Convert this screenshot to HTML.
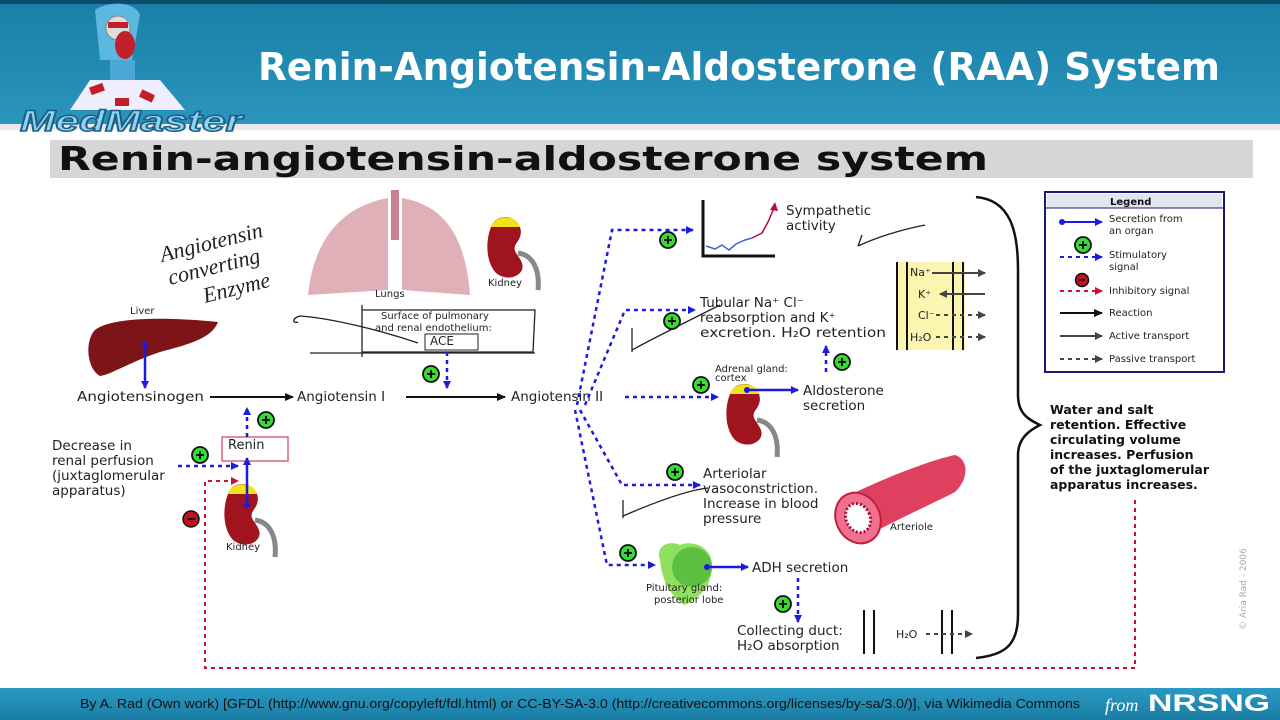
<!DOCTYPE html>
<html><head><meta charset="utf-8"><style>
html,body{margin:0;padding:0;width:1280px;height:720px;overflow:hidden;background:#fff}
svg{display:block}
text{font-family:"DejaVu Sans","Liberation Sans",sans-serif}
</style></head><body>
<svg width="1280" height="720" viewBox="0 0 1280 720" xmlns="http://www.w3.org/2000/svg">
<defs>
<linearGradient id="hdr" x1="0" y1="0" x2="0" y2="1"><stop offset="0" stop-color="#1a7fa6"/><stop offset="1" stop-color="#2a95bd"/></linearGradient>
<linearGradient id="ftr" x1="0" y1="0" x2="0" y2="1"><stop offset="0" stop-color="#2a9ac4"/><stop offset="1" stop-color="#1a7ca3"/></linearGradient>
<marker id="ab" markerWidth="8" markerHeight="8" refX="7" refY="4" orient="auto" markerUnits="userSpaceOnUse"><path d="M0,0 L8,4 L0,8z" fill="#1a1ae0"/></marker>
<marker id="ak" markerWidth="9" markerHeight="8" refX="8" refY="4" orient="auto" markerUnits="userSpaceOnUse"><path d="M0,0 L9,4 L0,8z" fill="#111"/></marker>
<marker id="ar" markerWidth="8" markerHeight="8" refX="7" refY="4" orient="auto" markerUnits="userSpaceOnUse"><path d="M0,0 L8,4 L0,8z" fill="#d01030"/></marker>
<marker id="ag" markerWidth="8" markerHeight="8" refX="7" refY="4" orient="auto" markerUnits="userSpaceOnUse"><path d="M0,0 L8,4 L0,8z" fill="#444"/></marker>
<g id="plus"><circle r="8" fill="#33dd33" stroke="#111" stroke-width="1.8"/><path d="M-4,0H4M0,-4V4" stroke="#111" stroke-width="2"/></g>
<g id="kid"><path d="M5,8 C-2,20 -4,45 8,58 C20,68 38,60 34,48 C30,38 22,36 30,26 C38,14 28,2 18,2 C12,2 8,4 5,8z" fill="#a0141e"/><path d="M3,12 C6,0 28,-2 32,12z" fill="#f2e21c"/><path d="M30,38 C45,40 52,55 50,75" stroke="#888" stroke-width="5" fill="none"/></g>
</defs>
<rect x="0" y="0" width="1280" height="126" fill="url(#hdr)"/>
<rect x="0" y="0" width="1280" height="4" fill="#0c4a66"/>
<rect x="0" y="124" width="1280" height="6" fill="#e9e9e9"/>
<text x="258" y="80" font-weight="bold" font-size="38" fill="#fff" textLength="962" lengthAdjust="spacingAndGlyphs" style="font-family:'DejaVu Sans',sans-serif">Renin-Angiotensin-Aldosterone (RAA) System</text>
<g>
<path d="M95,10 C110,0 135,2 140,15 L132,60 L100,60z" fill="#5cb8e0"/>
<circle cx="118" cy="28" r="12" fill="#ddd" stroke="#888"/>
<rect x="108" y="22" width="20" height="6" fill="#c0202a"/>
<ellipse cx="125" cy="45" rx="10" ry="14" fill="#c0202a"/>
<rect x="110" y="60" width="25" height="22" fill="#4aa8d8"/>
<path d="M70,110 L90,80 L160,80 L185,110z" fill="#eef"/>
<rect x="90" y="85" width="14" height="8" fill="#c0202a" transform="rotate(-20 97 89)"/>
<rect x="140" y="92" width="14" height="8" fill="#c0202a" transform="rotate(25 147 96)"/>
<rect x="115" y="98" width="14" height="8" fill="#c0202a"/>
<text x="20" y="131" font-weight="bold" font-style="italic" font-size="30" fill="#8fd3f3" stroke="#1f5f86" stroke-width="1.5" textLength="222" lengthAdjust="spacingAndGlyphs" style="font-family:'Liberation Sans',sans-serif">MedMaster</text>
</g>
<rect x="50" y="140" width="1203" height="38" fill="#d6d6d6"/>
<text x="58" y="170" font-weight="bold" font-size="33" fill="#111" textLength="930" lengthAdjust="spacingAndGlyphs">Renin-angiotensin-aldosterone system</text>

<g fill="none" stroke="#222" stroke-width="1.3">
<text x="162" y="262" font-size="22" font-style="italic" fill="#222" stroke="none" transform="rotate(-14 162 262)" style="font-family:'Liberation Serif',serif">Angiotensin</text>
<text x="170" y="285" font-size="22" font-style="italic" fill="#222" stroke="none" transform="rotate(-14 170 285)" style="font-family:'Liberation Serif',serif">converting</text>
<text x="205" y="303" font-size="22" font-style="italic" fill="#222" stroke="none" transform="rotate(-14 205 303)" style="font-family:'Liberation Serif',serif">Enzyme</text>
<path d="M418,343 C380,330 330,318 300,316 M300,316 C292,318 292,324 298,322"/>
<path d="M362,310 H535 L533,352 H362 M362,305 V357 M310,353 H535"/>
<path d="M632,352 L632,328 M632,350 C650,340 690,320 720,305"/>
<path d="M858,246 L862,235 M858,246 C880,236 900,230 925,225"/>
<path d="M623,518 L623,500 M623,516 C660,500 690,490 708,488"/>
</g>
<path d="M95,330 C110,318 160,316 218,322 C212,338 190,344 160,352 C130,362 112,374 100,376 C86,368 85,340 95,330z" fill="#7c1418"/>
<text x="130" y="314" font-size="10" fill="#222">Liver</text>
<line x1="145" y1="345" x2="145" y2="388" stroke="#1a1ae0" stroke-width="2.5" marker-end="url(#ab)"/>
<circle cx="145" cy="345" r="3" fill="#1a1ae0"/>
<path d="M388,198 C350,205 315,230 308,295 L388,290z" fill="#e0b0b8"/>
<path d="M402,198 C440,205 465,230 470,295 L402,290z" fill="#e0b0b8"/>
<rect x="391" y="190" width="8" height="50" fill="#c98090"/>
<text x="375" y="297" font-size="10" fill="#222">Lungs</text>
<use href="#kid" x="488" y="215"/>
<text x="488" y="286" font-size="10" fill="#222">Kidney</text>
<text x="381" y="319" font-size="10" fill="#222">Surface of pulmonary</text>
<text x="375" y="331" font-size="10" fill="#222">and renal endothelium:</text>
<rect x="425" y="334" width="53" height="16" fill="none" stroke="#222"/>
<text x="430" y="345" font-size="12" fill="#222">ACE</text>
<line x1="447" y1="352" x2="447" y2="388" stroke="#1a1ae0" stroke-width="2.5" stroke-dasharray="4,4" marker-end="url(#ab)"/>
<use href="#plus" x="431" y="374"/>
<g font-size="13.5" fill="#222">
<text x="77" y="401" textLength="127" lengthAdjust="spacingAndGlyphs">Angiotensinogen</text>
<text x="297" y="401">Angiotensin I</text>
<text x="511" y="401">Angiotensin II</text>
</g>
<line x1="210" y1="397" x2="293" y2="397" stroke="#111" stroke-width="2" marker-end="url(#ak)"/>
<line x1="406" y1="397" x2="505" y2="397" stroke="#111" stroke-width="2" marker-end="url(#ak)"/>
<rect x="222" y="437" width="66" height="24" fill="none" stroke="#d04050" stroke-width="1.2"/>
<text x="228" y="449" font-size="13" fill="#222">Renin</text>
<line x1="247" y1="437" x2="247" y2="408" stroke="#1a1ae0" stroke-width="2.5" stroke-dasharray="4,4" marker-end="url(#ab)"/>
<use href="#plus" x="266" y="420"/>
<use href="#kid" x="225" y="482"/>
<line x1="247" y1="505" x2="247" y2="458" stroke="#1a1ae0" stroke-width="2.5" marker-end="url(#ab)"/>
<circle cx="247" cy="505" r="3" fill="#1a1ae0"/>
<text x="226" y="550" font-size="10" fill="#222">Kidney</text>
<g font-size="13.5" fill="#222">
<text x="52" y="450">Decrease in</text>
<text x="52" y="465">renal perfusion</text>
<text x="52" y="480">(juxtaglomerular</text>
<text x="52" y="495">apparatus)</text>
</g>
<line x1="178" y1="466" x2="238" y2="466" stroke="#1a1ae0" stroke-width="2.5" stroke-dasharray="4,4" marker-end="url(#ab)"/>
<use href="#plus" x="200" y="455"/>
<polyline points="1135,500 1135,668 205,668 205,481 238,481" fill="none" stroke="#d01030" stroke-width="2" stroke-dasharray="4,4" marker-end="url(#ar)"/>
<circle cx="191" cy="519" r="8" fill="#c01020" stroke="#111" stroke-width="1.5"/><line x1="187" y1="519" x2="195" y2="519" stroke="#111" stroke-width="2"/>
<g fill="none" stroke="#1a1ae0" stroke-width="2.5" stroke-dasharray="4,4">
<polyline points="577,405 612,230 693,230" marker-end="url(#ab)"/>
<polyline points="585,405 625,310 695,310" marker-end="url(#ab)"/>
<polyline points="625,397 718,397" marker-end="url(#ab)"/>
<polyline points="580,410 622,485 700,485" marker-end="url(#ab)"/>
<polyline points="575,410 607,565 655,565" marker-end="url(#ab)"/>
<polyline points="826,372 826,346" marker-end="url(#ab)"/>
<polyline points="798,578 798,622" marker-end="url(#ab)"/>
</g>
<use href="#plus" x="668" y="240"/>
<use href="#plus" x="672" y="321"/>
<use href="#plus" x="701" y="385"/>
<use href="#plus" x="675" y="472"/>
<use href="#plus" x="628" y="553"/>
<use href="#plus" x="842" y="362"/>
<use href="#plus" x="783" y="604"/>
<path d="M703,200 V256 H775" fill="none" stroke="#111" stroke-width="3"/>
<path d="M706,246 L715,249 L722,245 L729,250 L736,244 L745,240 L752,238" fill="none" stroke="#3a6ad0" stroke-width="1.5"/>
<path d="M752,238 L762,233 L768,222 L774,208" fill="none" stroke="#b01040" stroke-width="1.5"/>
<path d="M770,210 L775,202 L778,211z" fill="#b01040"/>
<g font-size="13.5" fill="#222">
<text x="786" y="215">Sympathetic</text>
<text x="786" y="230">activity</text>
<text x="700" y="307">Tubular Na⁺ Cl⁻</text>
<text x="700" y="322">reabsorption and K⁺</text>
<text x="700" y="337" textLength="186" lengthAdjust="spacingAndGlyphs">excretion. H₂O retention</text>
<text x="803" y="395">Aldosterone</text>
<text x="803" y="410">secretion</text>
<text x="703" y="478">Arteriolar</text>
<text x="703" y="493">vasoconstriction.</text>
<text x="703" y="508">Increase in blood</text>
<text x="703" y="523">pressure</text>
<text x="752" y="572">ADH secretion</text>
<text x="737" y="635">Collecting duct:</text>
<text x="737" y="650">H₂O absorption</text>
</g>
<rect x="897" y="262" width="68" height="88" fill="#fbf5b0"/>
<g stroke="#111" stroke-width="2"><line x1="897" y1="262" x2="897" y2="350"/><line x1="907" y1="262" x2="907" y2="350"/><line x1="953" y1="262" x2="953" y2="350"/><line x1="963" y1="262" x2="963" y2="350"/></g>
<g font-size="11" fill="#222"><text x="910" y="276">Na⁺</text><text x="918" y="298">K⁺</text><text x="918" y="319">Cl⁻</text><text x="910" y="341">H₂O</text></g>
<line x1="932" y1="273" x2="985" y2="273" stroke="#444" stroke-width="2" marker-end="url(#ag)"/>
<line x1="985" y1="294" x2="940" y2="294" stroke="#444" stroke-width="2" marker-end="url(#ag)"/>
<line x1="936" y1="315" x2="985" y2="315" stroke="#444" stroke-width="2" stroke-dasharray="4,4" marker-end="url(#ag)"/>
<line x1="936" y1="337" x2="985" y2="337" stroke="#444" stroke-width="2" stroke-dasharray="4,4" marker-end="url(#ag)"/>
<use href="#kid" x="727" y="382"/>
<line x1="745" y1="390" x2="798" y2="390" stroke="#1a1ae0" stroke-width="2.5" marker-end="url(#ab)"/>
<circle cx="747" cy="390" r="3" fill="#1a1ae0"/>
<text x="715" y="372" font-size="10" fill="#222">Adrenal gland:</text>
<text x="715" y="381" font-size="10" fill="#222">cortex</text>
<path d="M850,495 C880,480 930,460 955,455 C970,460 968,480 955,492 C930,505 885,525 860,540z" fill="#e04060"/>
<ellipse cx="858" cy="518" rx="22" ry="26" transform="rotate(-25 858 518)" fill="#f07090" stroke="#c02040" stroke-width="2"/>
<ellipse cx="858" cy="518" rx="12" ry="15" transform="rotate(-25 858 518)" fill="#fff" stroke="#a01030" stroke-width="3" stroke-dasharray="2,2"/>
<text x="890" y="530" font-size="10" fill="#222">Arteriole</text>
<path d="M660,560 C655,545 670,540 680,545 C690,540 712,545 712,565 C712,590 695,600 685,605 C675,600 662,585 660,560z" fill="#90e060"/>
<ellipse cx="692" cy="567" rx="20" ry="20" fill="#5cc040"/>
<line x1="705" y1="567" x2="748" y2="567" stroke="#1a1ae0" stroke-width="2.5" marker-end="url(#ab)"/>
<circle cx="707" cy="567" r="3" fill="#1a1ae0"/>
<text x="646" y="591" font-size="10" fill="#222">Pituitary gland:</text>
<text x="654" y="603" font-size="10" fill="#222">posterior lobe</text>
<g stroke="#111" stroke-width="2"><line x1="864" y1="610" x2="864" y2="654"/><line x1="874" y1="610" x2="874" y2="654"/><line x1="942" y1="610" x2="942" y2="654"/><line x1="952" y1="610" x2="952" y2="654"/></g>
<text x="896" y="638" font-size="11" fill="#222">H₂O</text>
<line x1="926" y1="634" x2="972" y2="634" stroke="#444" stroke-width="2" stroke-dasharray="4,4" marker-end="url(#ag)"/>
<path d="M976,197 C1010,200 1018,230 1018,270 L1018,395 C1018,415 1030,420 1040,425 C1030,430 1018,438 1018,455 L1018,615 C1018,645 1005,655 976,658" fill="none" stroke="#111" stroke-width="2.5"/>
<g font-size="12.5" font-weight="bold" fill="#111">
<text x="1050" y="414">Water and salt</text>
<text x="1050" y="429">retention. Effective</text>
<text x="1050" y="444">circulating volume</text>
<text x="1050" y="459">increases. Perfusion</text>
<text x="1050" y="474">of the juxtaglomerular</text>
<text x="1050" y="489">apparatus increases.</text>
</g>
<rect x="1045" y="192" width="179" height="180" fill="#fff" stroke="#1a1a7a" stroke-width="2"/>
<rect x="1047" y="194" width="175" height="14" fill="#e4e4f0"/>
<line x1="1045" y1="208" x2="1224" y2="208" stroke="#1a1a7a"/>
<text x="1110" y="205" font-size="10" font-weight="bold" fill="#111">Legend</text>
<g font-size="10" fill="#222">
<text x="1109" y="222">Secretion from</text><text x="1109" y="234">an organ</text>
<text x="1109" y="258">Stimulatory</text><text x="1109" y="270">signal</text>
<text x="1109" y="294">Inhibitory signal</text>
<text x="1109" y="316">Reaction</text>
<text x="1109" y="339">Active transport</text>
<text x="1109" y="362">Passive transport</text>
</g>
<circle cx="1062" cy="222" r="3" fill="#1a1ae0"/>
<line x1="1062" y1="222" x2="1102" y2="222" stroke="#1a1ae0" stroke-width="2" marker-end="url(#ab)"/>
<use href="#plus" x="1083" y="245"/>
<line x1="1060" y1="257" x2="1102" y2="257" stroke="#1a1ae0" stroke-width="2" stroke-dasharray="4,4" marker-end="url(#ab)"/>
<circle cx="1082" cy="280" r="6.5" fill="#c01020" stroke="#111" stroke-width="1.5"/><line x1="1079" y1="280" x2="1085" y2="280" stroke="#111" stroke-width="1.5"/>
<line x1="1060" y1="291" x2="1102" y2="291" stroke="#d01030" stroke-width="2" stroke-dasharray="4,4" marker-end="url(#ar)"/>
<line x1="1060" y1="313" x2="1102" y2="313" stroke="#111" stroke-width="2" marker-end="url(#ak)"/>
<line x1="1060" y1="336" x2="1102" y2="336" stroke="#444" stroke-width="2" marker-end="url(#ag)"/>
<line x1="1060" y1="359" x2="1102" y2="359" stroke="#444" stroke-width="2" stroke-dasharray="4,4" marker-end="url(#ag)"/>
<text x="1246" y="630" font-size="9" fill="#aaa" transform="rotate(-90 1246 630)">© Aria Rad - 2006</text>
<rect x="0" y="688" width="1280" height="32" fill="url(#ftr)"/>
<text x="80" y="708" font-size="12.5" fill="#111" textLength="1000" lengthAdjust="spacingAndGlyphs" style="font-family:'Liberation Sans',sans-serif">By A. Rad (Own work) [GFDL (http://www.gnu.org/copyleft/fdl.html) or CC-BY-SA-3.0 (http://creativecommons.org/licenses/by-sa/3.0/)], via Wikimedia Commons</text>
<text x="1105" y="711" font-style="italic" font-size="18" fill="#fff" style="font-family:'Liberation Serif',serif">from</text>
<text x="1148" y="711" font-weight="bold" font-size="24" fill="#fff" textLength="122" lengthAdjust="spacingAndGlyphs" style="font-family:'Liberation Sans',sans-serif">NRSNG</text>
</svg>
</body></html>
